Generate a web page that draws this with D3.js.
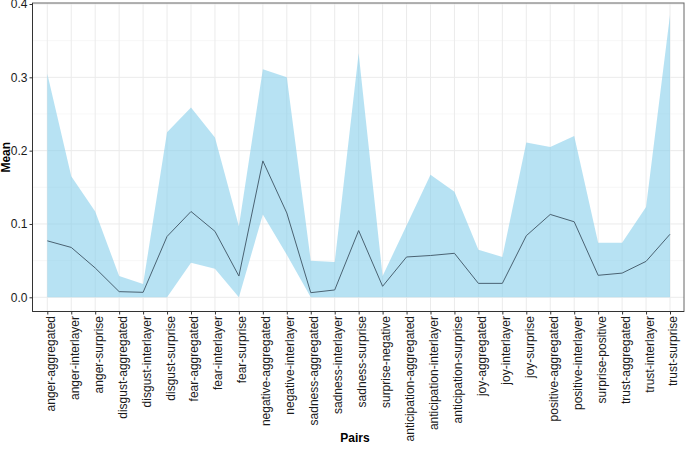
<!DOCTYPE html>
<html>
<head>
<meta charset="utf-8">
<script src="https://cdn.jsdelivr.net/npm/d3@7"></script>
<style>
html,body{margin:0;padding:0;background:#fff;}
svg{display:block;font-family:"Liberation Sans",Arial,Helvetica,sans-serif;}
</style>
</head>
<body>
<svg id="chart" width="685" height="449"></svg>
<script>
const categories = ["anger-aggregated","anger-interlayer","anger-surprise","disgust-aggregated","disgust-interlayer","disgust-surprise","fear-aggregated","fear-interlayer","fear-surprise","negative-aggregated","negative-interlayer","sadness-aggregated","sadness-interlayer","sadness-surprise","surprise-negative","anticipation-aggregated","anticipation-interlayer","anticipation-surprise","joy-aggregated","joy-interlayer","joy-surprise","positive-aggregated","positive-interlayer","surprise-positive","trust-aggregated","trust-interlayer","trust-surprise"];
const meanValues = [0.077,0.068,0.040,0.0077,0.0068,0.083,0.117,0.090,0.029,0.186,0.115,0.0063,0.010,0.091,0.0150,0.055,0.057,0.060,0.019,0.019,0.084,0.113,0.103,0.030,0.033,0.049,0.086];
const upperValues = [0.305,0.165,0.117,0.029,0.018,0.225,0.259,0.218,0.097,0.311,0.300,0.050,0.048,0.333,0.029,0.098,0.167,0.144,0.065,0.055,0.211,0.205,0.220,0.0745,0.0745,0.123,0.385];
const lowerValues = [0,0,0,0,0,0,0.047,0.039,0,0.113,0.058,0,0,0,0,0,0,0,0,0,0,0,0,0,0,0,0];
const yTicks = [0,0.1,0.2,0.3,0.4];
const yMinor = [0.05,0.15,0.25,0.35];

const data = categories.map((c,i)=>({c, mean:meanValues[i], lo:lowerValues[i], hi:upperValues[i]}));

const svg = d3.select("#chart");
const panel = {left:32.5, right:684, top:3, bottom:311.5};

const x = d3.scalePoint().domain(categories).range([47.3, 670]);
const y = d3.scaleLinear().domain([0,0.4]).range([297.3, 4.0]);

// grid
const g = svg.append("g");
g.selectAll(".minor").data(yMinor).join("line")
  .attr("x1",panel.left).attr("x2",panel.right)
  .attr("y1",d=>y(d)).attr("y2",d=>y(d))
  .attr("stroke","#f3f3f3").attr("stroke-width",0.7);
g.selectAll(".majorY").data(yTicks).join("line")
  .attr("x1",panel.left).attr("x2",panel.right)
  .attr("y1",d=>y(d)).attr("y2",d=>y(d))
  .attr("stroke","#ebebeb").attr("stroke-width",1);
g.selectAll(".majorX").data(categories).join("line")
  .attr("x1",d=>x(d)).attr("x2",d=>x(d))
  .attr("y1",panel.top).attr("y2",panel.bottom)
  .attr("stroke","#ebebeb").attr("stroke-width",1);

// ribbon
const area = d3.area().x(d=>x(d.c)).y0(d=>y(d.lo)).y1(d=>y(d.hi));
svg.append("path").datum(data).attr("d",area)
  .attr("fill","#87ceeb").attr("fill-opacity",0.6);

// line
const line = d3.line().x(d=>x(d.c)).y(d=>y(d.mean));
svg.append("path").datum(data).attr("d",line)
  .attr("fill","none").attr("stroke","#4a6272").attr("stroke-width",1);

// border
svg.append("rect").attr("x",panel.left).attr("y",panel.top)
  .attr("width",panel.right-panel.left).attr("height",panel.bottom-panel.top)
  .attr("fill","none").attr("stroke","#666").attr("stroke-width",1);

// y axis
const ya = svg.append("g").attr("transform",`translate(${panel.left},0)`)
  .call(d3.axisLeft(y).tickValues(yTicks).tickFormat(d3.format(".1f")).tickSize(3).tickPadding(2));
ya.select(".domain").attr("d",`M0,${panel.top}V${panel.bottom}`).attr("stroke","#333");
ya.selectAll(".tick line").attr("stroke","#333");
ya.selectAll(".tick text").attr("font-size",12).attr("fill","#1a1a1a")
  .attr("font-family","Liberation Sans, Arial, sans-serif");

// x axis
const xa = svg.append("g").attr("transform",`translate(0,${panel.bottom})`)
  .call(d3.axisBottom(x).tickSize(3).tickPadding(2));
xa.select(".domain").attr("d",`M${panel.left},0H${panel.right}`).attr("stroke","#333");
xa.selectAll(".tick line").attr("stroke","#333");
xa.selectAll(".tick text")
  .attr("transform","rotate(-90)")
  .attr("x",-4.5).attr("y",0).attr("dy","0.58em")
  .style("text-anchor","end")
  .attr("font-size",12).attr("fill","#1a1a1a")
  .attr("font-family","Liberation Sans, Arial, sans-serif");

// axis titles
svg.append("text").attr("transform",`translate(10,${(panel.top+panel.bottom)/2}) rotate(-90)`)
  .attr("text-anchor","middle").attr("font-size",12).attr("font-weight","bold")
  .attr("fill","#000").text("Mean");
svg.append("text").attr("x",355).attr("y",442)
  .attr("text-anchor","middle").attr("font-size",12).attr("font-weight","bold")
  .attr("fill","#000").text("Pairs");
</script>
</body>
</html>
